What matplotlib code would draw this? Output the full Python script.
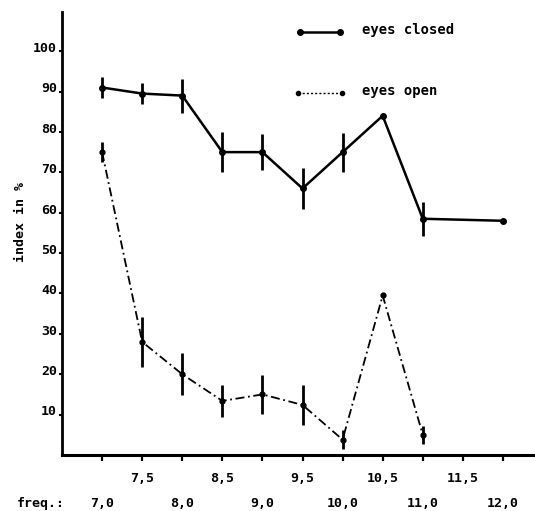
import matplotlib
matplotlib.use("Agg")
import matplotlib.pyplot as plt
from matplotlib.transforms import ScaledTranslation

# ---- data ----
freq_closed = [7.0, 7.5, 8.0, 8.5, 9.0, 9.5, 10.0, 10.5, 11.0, 12.0]
index_closed = [91, 89.5, 89, 75, 75, 66, 75, 84, 58.5, 58]
err_closed = [2.5, 2.6, 4.2, 5.0, 4.5, 5.0, 4.8, 0, 4.2, 0]

freq_open = [7.0, 7.5, 8.0, 8.5, 9.0, 9.5, 10.0, 10.5, 11.0]
index_open = [75, 28, 20, 13.4, 15, 12.4, 3.8, 39.5, 5]
err_open = [2.5, 6.2, 5.2, 4.0, 4.8, 5.0, 2.4, 0, 2.2]

xticks = [7.0, 7.5, 8.0, 8.5, 9.0, 9.5, 10.0, 10.5, 11.0, 11.5, 12.0]
xtick_labels = ["7,0", "7,5", "8,0", "8,5", "9,0", "9,5", "10,0", "10,5", "11,0", "11,5", "12,0"]
yticks = [10, 20, 30, 40, 50, 60, 70, 80, 90, 100]
ytick_labels = ["10", "20", "30", "40", "50", "60", "70", "80", "90", "100"]

FONT = "DejaVu Sans Mono"
plt.rcParams["font.family"] = [FONT]
plt.rcParams["font.weight"] = "bold"

fig = plt.figure(figsize=(5.35, 5.11), dpi=100)
ax = fig.add_axes([62/535, (511-455)/511, 1 - 62/535, (455-12)/511])

ax.set_xlim(6.50, 12.40)
ax.set_ylim(0, 109.7)

# eyes closed
ax.plot(freq_closed, index_closed, color="black", lw=1.8, marker="o", ms=4,
        solid_joinstyle="miter")
ax.errorbar(freq_closed, index_closed, yerr=err_closed, fmt="none",
            ecolor="black", elinewidth=2.0, capsize=0)

# eyes open
ax.plot(freq_open, index_open, color="black", lw=1.3, marker="o", ms=3.5,
        dashes=[5, 2, 1, 2])
ax.errorbar(freq_open, index_open, yerr=err_open, fmt="none",
            ecolor="black", elinewidth=2.0, capsize=0)

# spines
for s in ["top", "right"]:
    ax.spines[s].set_visible(False)
ax.spines["left"].set_linewidth(2.0)
ax.spines["bottom"].set_linewidth(2.2)

# y ticks
ax.set_yticks(yticks)
ax.set_yticklabels(ytick_labels, fontsize=9.5, fontweight="bold", family=FONT)
ax.tick_params(axis="y", direction="out", length=2.5, width=1.5, pad=1.0)
for lab in ax.get_yticklabels():
    lab.set_transform(lab.get_transform() + ScaledTranslation(0, 3/72, fig.dpi_scale_trans))

# x ticks (staggered labels drawn manually)
ax.set_xticks(xticks)
ax.set_xticklabels([])
ax.tick_params(axis="x", direction="out", length=4.5, width=1.6)
for i, (xv, lab) in enumerate(zip(xticks, xtick_labels)):
    dy = -16.6 if i % 2 == 1 else -34.6
    ax.annotate(lab, xy=(xv, 0), xycoords=("data", "axes fraction"),
                xytext=(0, dy), textcoords="offset points",
                ha="center", va="center", fontsize=9.5, fontweight="bold",
                family=FONT, annotation_clip=False)
fig.text(41/535, 1 - 503/511, "freq.:", ha="center", va="center",
         fontsize=9.5, fontweight="bold", family=FONT)

# y label
fig.text(21/535, 1 - 222/511, "index in %", rotation=90, ha="center", va="center",
         fontsize=9.5, fontweight="bold", family=FONT)

# legend (manual)
def px2ax(px, py):
    return ((px - 62) / (535 - 62), (455 - py) / (455 - 12))

x0, y0 = px2ax(300, 32)
x1, _ = px2ax(340, 32)
ax.plot([x0, x1], [y0, y0], transform=ax.transAxes, color="black", lw=1.8,
        marker="o", ms=4, clip_on=False)
tx, ty = px2ax(362, 30)
ax.text(tx, ty, "eyes closed", transform=ax.transAxes, ha="left", va="center",
        fontsize=10, fontweight="bold", family=FONT)

x0, y0 = px2ax(298, 93)
x1, _ = px2ax(342, 93)
ax.plot([x0, x1], [y0, y0], transform=ax.transAxes, color="black", lw=1.0,
        marker="o", ms=3, dashes=[1.5, 1.5], clip_on=False)
tx, ty = px2ax(362, 91)
ax.text(tx, ty, "eyes open", transform=ax.transAxes, ha="left", va="center",
        fontsize=10, fontweight="bold", family=FONT)

fig.savefig("out.png", dpi=100)
